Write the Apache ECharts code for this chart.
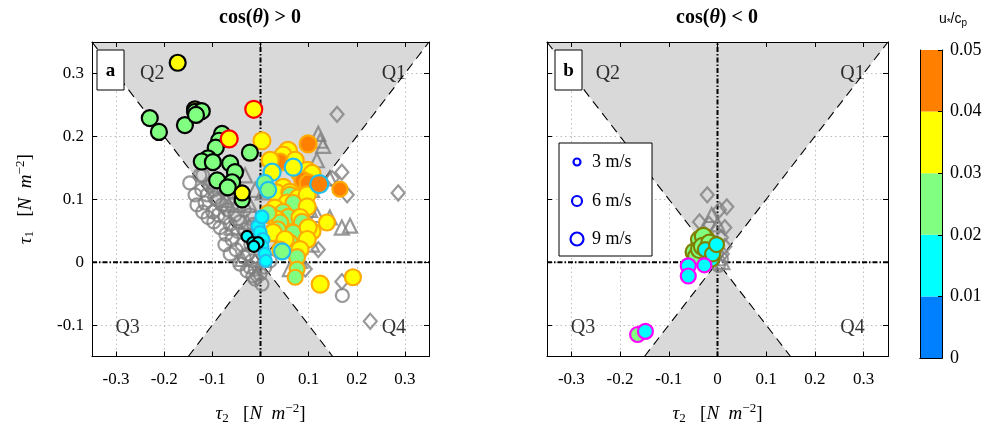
<!DOCTYPE html>
<html><head><meta charset="utf-8">
<script src="https://cdn.jsdelivr.net/npm/echarts@6/dist/echarts.min.js"></script>
<style>html,body{margin:0;padding:0;background:#fff}#c{width:987px;height:430px}</style>
</head><body><div id="c"></div>
<script>
const SERIF = '"Liberation Serif", "DejaVu Serif", serif';
// ---- axes / ticks ----
const xRange = [-0.35, 0.35];
const yRange = [-0.15, 0.35];
const xTickValues = [-0.3, -0.2, -0.1, 0, 0.1, 0.2, 0.3];
const yTickValues = [-0.1, 0, 0.1, 0.2, 0.3];
const cbTickValues = [0, 0.01, 0.02, 0.03, 0.04, 0.05];
const cbColors = ['#0080ff', '#00ffff', '#80ff80', '#ffff00', '#ff8000'];
const panelTitles = ['cos(θ) > 0', 'cos(θ) < 0'];
const panelLetters = ['a', 'b'];
const legendSpeeds = [3, 6, 9];
const quadLabels = ['Q1', 'Q2', 'Q3', 'Q4'];
const quadPos = [[0.277, 0.30], [-0.225, 0.30], [-0.276, -0.105], [0.277, -0.105]];
// quadrant wedges (|tau1| > |tau2|) and their boundaries
const wedgeUpper = [[0, 0], [-0.35, 0.35], [0.35, 0.35]];
const wedgeLower = [[0, 0], [-0.15, -0.15], [0.15, -0.15]];
const diagLine1 = [[-0.15, -0.15], [0.35, 0.35]];
const diagLine2 = [[-0.35, 0.35], [0.15, -0.15]];
const zeroLineX = [[-0.35, 0], [0.35, 0]];
const zeroLineY = [[0, -0.15], [0, 0.35]];

// ---- panel a data: [tau2, tau1] (gray) ; [tau2, tau1, u*/cp, U10] (colored) ----
const grayCirclesA = [[-0.126,0.138],[-0.115,0.094],[-0.099,0.080],[-0.111,0.107],[-0.095,0.102],[-0.080,0.091],[-0.105,0.122],[-0.122,0.115],[-0.088,0.075],[-0.074,0.071],[-0.063,0.060],[-0.068,0.083],[-0.053,0.075],[-0.043,0.064],[-0.047,0.049],[-0.059,0.036],[-0.032,0.052],[-0.038,0.028],[-0.026,0.013],[-0.018,0.002],[-0.011,-0.011],[-0.001,-0.019],[-0.022,-0.008],[-0.034,0.008],[-0.051,0.020],[-0.072,0.044],[-0.084,0.055],[-0.097,0.064],[-0.109,0.071],[-0.074,0.028],[-0.063,0.013],[-0.043,-0.003],[-0.028,-0.014],[-0.011,-0.027],[0.003,-0.035],[-0.005,0.002],[-0.132,0.091],[-0.147,0.126],[-0.136,0.107],[-0.120,0.138],[-0.088,0.099],[-0.076,0.115],[-0.097,0.115],[-0.051,0.102],[-0.059,0.091],[-0.034,0.083],[-0.022,0.075],[-0.014,0.060],[-0.009,0.044],[-0.020,0.028],[0.009,-0.008],[0.020,0.002],[0.170,-0.053],[-0.016,-0.022],[-0.120,0.080],[-0.099,0.127]];
const grayTrianglesA = [[0.124,0.193],[0.120,0.204],[0.130,0.185],[0.117,0.162],[0.144,0.133],[0.169,0.055],[0.186,0.058],[0.144,0.071],[0.117,0.075],[0.103,0.083],[0.107,0.115],[0.093,0.049],[0.107,0.028],[-0.032,0.138],[-0.043,0.115],[-0.022,0.091],[-0.051,0.091],[-0.072,0.099],[-0.011,0.115],[-0.028,0.064],[-0.059,0.055],[-0.038,0.005],[0.005,0.111],[0.082,0.002],[0.061,-0.011]];
const grayDiamondsA = [[0.159,0.235],[0.169,0.143],[0.180,0.107],[0.286,0.110],[0.149,0.133],[0.169,-0.031],[0.228,-0.094],[0.093,-0.011],[0.082,0.013],[0.120,0.020],[-0.007,-0.024]];
const orangeEdgeA = [[0.003,0.193,0.035,9],[0.099,0.188,0.045,9],[0.057,0.177,0.035,10],[0.047,0.170,0.035,9],[0.041,0.159,0.045,9],[0.020,0.162,0.035,9],[0.072,0.162,0.035,9],[0.080,0.143,0.045,9],[0.097,0.146,0.035,9],[0.107,0.141,0.035,9],[0.088,0.130,0.045,9],[0.099,0.126,0.045,9],[0.165,0.116,0.045,7],[0.047,0.119,0.035,9],[0.034,0.110,0.035,9],[0.061,0.111,0.035,9],[0.061,0.107,0.025,8],[0.078,0.102,0.035,9],[0.097,0.107,0.035,9],[0.055,0.094,0.035,9],[0.068,0.094,0.025,8],[0.097,0.088,0.035,9],[0.030,0.086,0.035,9],[0.047,0.080,0.025,8],[0.020,0.075,0.035,9],[0.057,0.072,0.025,8],[0.082,0.071,0.035,9],[0.138,0.063,0.035,8],[0.034,0.068,0.035,9],[0.041,0.063,0.025,8],[0.016,0.078,0.025,8],[0.086,0.064,0.025,8],[0.036,0.052,0.025,8],[0.026,0.047,0.035,9],[0.068,0.047,0.025,8],[0.107,0.049,0.035,9],[0.099,0.055,0.035,9],[0.097,0.036,0.035,9],[0.061,0.031,0.025,8],[0.051,0.036,0.035,9],[0.082,0.020,0.035,9],[0.041,0.020,0.025,8],[0.076,0.008,0.025,8],[0.076,-0.011,0.025,7],[0.072,-0.024,0.025,7],[0.124,-0.035,0.035,9],[0.192,-0.024,0.035,8]];
const cyanEdgeA = [[-0.005,0.057,0.015,5],[-0.001,0.047,0.015,5],[0.005,0.036,0.015,5],[0.003,0.025,0.015,5],[0.009,0.013,0.015,4],[0.011,0.002,0.015,4],[0.003,0.072,0.015,5],[0.024,0.143,0.035,9],[0.068,0.151,0.035,9],[0.122,0.124,0.045,10],[0.009,0.126,0.025,8],[0.016,0.115,0.025,8],[0.045,0.017,0.025,8]];
const blackEdgeA = [[-0.136,0.243,0.035,8],[-0.230,0.229,0.025,8],[-0.211,0.207,0.025,8],[-0.157,0.218,0.025,8],[-0.136,0.239,0.025,8],[-0.122,0.240,0.025,8],[-0.134,0.234,0.025,8],[-0.080,0.204,0.025,8],[-0.086,0.193,0.025,8],[-0.093,0.182,0.025,8],[-0.109,0.165,0.025,8],[-0.122,0.160,0.025,8],[-0.099,0.159,0.025,8],[-0.063,0.157,0.025,8],[-0.022,0.174,0.025,8],[-0.053,0.143,0.025,8],[-0.090,0.130,0.025,8],[-0.059,0.127,0.025,8],[-0.068,0.119,0.025,8],[-0.038,0.099,0.025,7],[-0.172,0.317,0.035,8],[-0.038,0.110,0.035,7],[-0.028,0.041,0.015,3],[-0.016,0.031,0.015,3],[-0.005,0.031,0.015,3],[-0.014,0.025,0.015,3]];
const redEdgeA = [[-0.014,0.243,0.035,9],[-0.065,0.196,0.035,9]];

// ---- panel b data ----
const grayCirclesB = [[0.002,-0.005],[0.008,0.005]];
const grayTrianglesB = [[-0.012,0.075],[0.010,0.000],[0.000,0.060]];
const grayDiamondsB = [[-0.021,0.107],[0.019,0.088],[0.004,0.083],[-0.037,0.064],[-0.017,0.060],[0.015,0.055],[0.008,0.039],[0.015,0.025],[0.010,0.013]];
const oliveEdgeB = [[-0.037,0.036,0.025,9],[-0.023,0.036,0.025,9],[-0.029,0.041,0.025,9],[-0.048,0.016,0.025,9],[-0.044,0.009,0.025,8],[-0.037,0.020,0.025,9],[-0.031,0.025,0.025,9],[-0.017,0.031,0.025,8],[-0.025,0.020,0.015,7],[-0.012,0.005,0.015,7],[-0.010,0.013,0.015,7],[-0.002,0.028,0.015,7]];
const magentaEdgeB = [[-0.060,-0.006,0.015,7],[-0.027,-0.005,0.015,6],[-0.060,-0.022,0.015,7],[-0.164,-0.115,0.025,7],[-0.148,-0.110,0.015,7]];

const GRAY = '#808080';
const symSize = d => 8 + d[3];

const fmtTick = v => Math.abs(v) < 1e-9 ? '0' : String(Math.round(v * 10) / 10);
const nameRich = {
  i: {fontFamily: SERIF, fontStyle: 'italic', fontSize: 19, color: '#000'},
  n: {fontFamily: SERIF, fontSize: 19, color: '#000'},
  s: {fontFamily: SERIF, fontSize: 13, color: '#000', padding: [9, 0, 0, 0]},
  p: {fontFamily: SERIF, fontSize: 13, color: '#000', padding: [0, 0, 10, 0]}
};
const xName = '{i|τ}{s|2}{n|   [}{i|N}{n|  }{i|m}{p|−2}{n|]}';
const yName = '{i|τ}{s|1}{n|   [}{i|N}{n|  }{i|m}{p|−2}{n|]}';

const xAxes = [], yAxes = [];
function frameX(g, pos, labels, name) {
  return {type: 'value', gridIndex: g, position: pos, min: xRange[0], max: xRange[1], z: 10,
    axisLine: {show: true, onZero: false, lineStyle: {color: '#000', width: 1}},
    axisTick: {show: true, inside: true, length: 5, customValues: xTickValues, lineStyle: {color: '#000'}},
    axisLabel: {show: labels, customValues: xTickValues, formatter: fmtTick, fontFamily: SERIF, fontSize: 17, color: '#000', margin: 15},
    splitLine: {show: false},
    name: name || '', nameLocation: 'middle', nameGap: 46, nameTextStyle: {rich: nameRich}};
}
function frameY(g, pos, labels, name) {
  return {type: 'value', gridIndex: g, position: pos, min: yRange[0], max: yRange[1], z: 10,
    axisLine: {show: true, onZero: false, lineStyle: {color: '#000', width: 1}},
    axisTick: {show: true, inside: true, length: 5, customValues: yTickValues, lineStyle: {color: '#000'}},
    axisLabel: {show: labels, customValues: yTickValues, formatter: fmtTick, fontFamily: SERIF, fontSize: 17, color: '#000', margin: 8},
    splitLine: {show: false},
    name: name || '', nameLocation: 'middle', nameGap: 55, nameRotate: 90, nameTextStyle: {rich: nameRich}};
}
function gridX(g) {
  return {type: 'value', gridIndex: g, min: xRange[0], max: xRange[1], z: 0,
    axisLine: {show: false, onZero: false}, axisTick: {show: false, customValues: xTickValues},
    axisLabel: {show: false, customValues: xTickValues},
    splitLine: {show: true, lineStyle: {type: [1.5, 3], color: '#bdbdbd', width: 1}}};
}
function gridY(g) {
  return {type: 'value', gridIndex: g, min: yRange[0], max: yRange[1], z: 0,
    axisLine: {show: false, onZero: false}, axisTick: {show: false, customValues: yTickValues},
    axisLabel: {show: false, customValues: yTickValues},
    splitLine: {show: true, lineStyle: {type: [1.5, 3], color: '#bdbdbd', width: 1}}};
}
for (let p = 0; p < 2; p++) {
  xAxes.push(frameX(p, 'bottom', true, xName), frameX(p, 'top', false), gridX(p));
  yAxes.push(frameY(p, 'left', p === 0, p === 0 ? yName : ''), frameY(p, 'right', false), gridY(p));
}
// colorbar axes (grid 2)
xAxes.push({type: 'category', gridIndex: 2, data: ['cb'], position: 'bottom', z: 10,
  axisLine: {show: true, lineStyle: {color: '#000'}}, axisTick: {show: false}, axisLabel: {show: false}});
xAxes.push({type: 'category', gridIndex: 2, data: ['cb'], position: 'top', z: 10,
  axisLine: {show: true, lineStyle: {color: '#000'}}, axisTick: {show: false}, axisLabel: {show: false}});
yAxes.push({type: 'value', gridIndex: 2, position: 'left', min: 0, max: 0.05, interval: 0.01, z: 10,
  axisLine: {show: true, onZero: false, lineStyle: {color: '#000'}}, axisTick: {show: false}, axisLabel: {show: false}, splitLine: {show: false}});
yAxes.push({type: 'value', gridIndex: 2, position: 'right', min: 0, max: 0.05, interval: 0.01, z: 10,
  axisLine: {show: true, onZero: false, lineStyle: {color: '#000'}},
  axisTick: {show: true, inside: true, length: 4, lineStyle: {color: '#000'}},
  axisLabel: {fontFamily: SERIF, fontSize: 18, color: '#000', margin: 8, formatter: v => v === 0 ? '0' : v.toFixed(2)},
  splitLine: {show: false}});

const series = [];
const coloredIdx = [];
function panelSeries(p, d) {
  const ax = {xAxisIndex: 3 * p, yAxisIndex: 3 * p};
  series.push(Object.assign({type: 'custom', z: 1, silent: true, data: [[0, 0], [0, 0]],
    renderItem: (params, api) => {
      const verts = params.dataIndex === 0 ? wedgeUpper : wedgeLower;
      return {type: 'polygon', shape: {points: verts.map(v => api.coord(v))}, style: {fill: '#d9d9d9'}};
    }}, ax));
  [diagLine1, diagLine2].forEach(L => series.push(Object.assign({type: 'line', z: 3, data: L, showSymbol: false, silent: true,
    lineStyle: {color: '#000', width: 1.1, type: [9, 6]}}, ax)));
  [zeroLineX, zeroLineY].forEach(L => series.push(Object.assign({type: 'line', z: 3, data: L, showSymbol: false, silent: true,
    lineStyle: {color: '#000', width: 2, type: [5, 2, 1.5, 2]}}, ax)));
  series.push(Object.assign({type: 'scatter', z: 4, silent: true, symbolSize: 1,
    itemStyle: {color: 'rgba(0,0,0,0)'},
    label: {show: true, position: 'inside', formatter: q => q.name, fontFamily: SERIF, fontSize: 20, color: '#000'},
    data: quadLabels.map((q, i) => ({name: q, value: quadPos[i]}))}, ax));
  const gray = (data, symbol, size) => series.push(Object.assign({type: 'scatter', z: 5, data, symbol, symbolSize: size,
    itemStyle: {color: 'rgba(0,0,0,0)', borderColor: GRAY, borderWidth: 2.2}}, ax));
  gray(d.circles, 'circle', 13);
  gray(d.triangles, 'triangle', 14);
  gray(d.diamonds, 'diamond', [13, 15]);
  d.colored.forEach(([data, edge]) => {
    coloredIdx.push(series.length);
    series.push(Object.assign({type: 'scatter', z: 6, data, symbolSize: symSize,
      itemStyle: {borderColor: edge, borderWidth: 2.2, opacity: 1}}, ax));
  });
}
panelSeries(0, {circles: grayCirclesA, triangles: grayTrianglesA, diamonds: grayDiamondsA,
  colored: [[orangeEdgeA, '#ffaa00'], [cyanEdgeA, '#20bff0'], [blackEdgeA, '#000000'], [redEdgeA, '#ff0000']]});
panelSeries(1, {circles: grayCirclesB, triangles: grayTrianglesB, diamonds: grayDiamondsB,
  colored: [[oliveEdgeB, '#808000'], [magentaEdgeB, '#ff00ff']]});
// colorbar
for (let i = 0; i < cbColors.length; i++) {
  series.push({type: 'bar', xAxisIndex: 6, yAxisIndex: 7, stack: 'cb', barWidth: '100%', silent: true, z: 2,
    data: [+(cbTickValues[i + 1] - cbTickValues[i]).toFixed(3)], itemStyle: {color: cbColors[i]}});
}

const pieces = cbColors.map((c, i) => ({gte: cbTickValues[i], lt: cbTickValues[i + 1] + (i === cbColors.length - 1 ? 1e-9 : 0), color: c}));

// graphic annotations
const titleRich = {
  b: {fontFamily: SERIF, fontWeight: 'bold', fontSize: 20, fill: '#000'},
  bi: {fontFamily: SERIF, fontWeight: 'bold', fontStyle: 'italic', fontSize: 20, fill: '#000'}
};
const graphic = [];
const titleCx = [260, 717];
panelTitles.forEach((t, i) => {
  const parts = t.split('θ');
  graphic.push({type: 'text', x: titleCx[i], y: 8, z: 100,
    style: {text: '{b|' + parts[0] + '}{bi|θ}{b|' + parts[1] + '}', rich: titleRich, textAlign: 'center'}});
});
const boxX = [97, 555];
panelLetters.forEach((L, i) => {
  graphic.push({type: 'rect', z: 100, shape: {x: boxX[i], y: 50, width: 27, height: 40}, style: {fill: '#fff', stroke: '#000', lineWidth: 1}});
  graphic.push({type: 'text', z: 101, x: boxX[i] + 13.5, y: 71,
    style: {text: L, font: 'bold 19px ' + SERIF, textAlign: 'center', textVerticalAlign: 'middle', fill: '#000'}});
});
// legend (wind speed)
graphic.push({type: 'rect', z: 100, shape: {x: 559, y: 143, width: 93, height: 113}, style: {fill: '#fff', stroke: '#000', lineWidth: 1}});
const legY = [162, 201, 239];
legendSpeeds.forEach((ws, i) => {
  graphic.push({type: 'circle', z: 101, shape: {cx: 577, cy: legY[i], r: (5 + ws) / 2 - 0.5},
    style: {fill: 'none', stroke: '#0000ff', lineWidth: 2.2}});
  graphic.push({type: 'text', z: 101, x: 592, y: legY[i],
    style: {text: ws + ' m/s', font: '18px ' + SERIF, textVerticalAlign: 'middle', fill: '#000'}});
});
// colorbar title
graphic.push({type: 'text', z: 100, x: 953, y: 10,
  style: {text: '{a|u}{s|*}{a|/c}{s|p}', textAlign: 'center',
    rich: {a: {fontFamily: 'Liberation Sans, sans-serif', fontSize: 14, fill: '#000'},
           s: {fontFamily: 'Liberation Sans, sans-serif', fontSize: 10, fill: '#000', padding: [8, 0, 0, 0]}}}});

const chart = echarts.init(document.getElementById('c'), null, {renderer: 'canvas'});
chart.setOption({
  animation: false,
  backgroundColor: '#fff',
  grid: [
    {left: 92, top: 42, width: 337, height: 316},
    {left: 547, top: 42, width: 341, height: 316},
    {left: 920, top: 50, width: 22, height: 308}
  ],
  xAxis: xAxes,
  yAxis: yAxes,
  visualMap: {type: 'piecewise', show: false, dimension: 2, seriesIndex: coloredIdx, pieces},
  series,
  graphic
});
</script></body></html>
